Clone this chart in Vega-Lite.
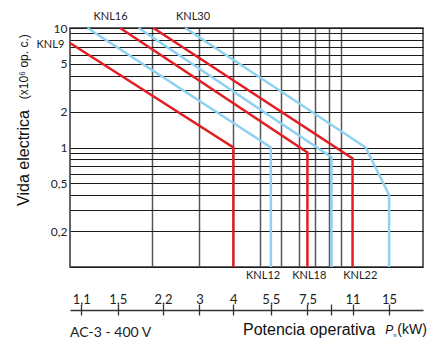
{
  "$schema": "https://vega.github.io/schema/vega-lite/v6.json",
  "width": 353,
  "height": 239,
  "autosize": {"type": "none"},
  "padding": {"left": 70, "top": 28, "right": 7, "bottom": 72},
  "background": "white",
  "config": {
    "view": {"stroke": "#333", "strokeWidth": 1.5},
    "font": "Liberation Sans"
  },
  "datasets": {
    "curves": [
      {"curve": "KNL9", "p": 1, "life": 7.5, "o": 1},
      {"curve": "KNL9", "p": 4, "life": 1.0, "o": 2},
      {"curve": "KNL9", "p": 4, "life": 0.1, "o": 3},
      {"curve": "KNL12", "p": 1.16, "life": 10, "o": 1},
      {"curve": "KNL12", "p": 5.5, "life": 1.0, "o": 2},
      {"curve": "KNL12", "p": 5.5, "life": 0.1, "o": 3},
      {"curve": "KNL16", "p": 1.53, "life": 10, "o": 1},
      {"curve": "KNL16", "p": 7.5, "life": 0.91, "o": 2},
      {"curve": "KNL16", "p": 7.5, "life": 0.1, "o": 3},
      {"curve": "KNL18", "p": 1.79, "life": 10, "o": 1},
      {"curve": "KNL18", "p": 9.2, "life": 0.83, "o": 2},
      {"curve": "KNL18", "p": 9.2, "life": 0.1, "o": 3},
      {"curve": "KNL22", "p": 2.03, "life": 10, "o": 1},
      {"curve": "KNL22", "p": 11, "life": 0.81, "o": 2},
      {"curve": "KNL22", "p": 11, "life": 0.1, "o": 3},
      {"curve": "KNL30", "p": 2.66, "life": 10, "o": 1},
      {"curve": "KNL30", "p": 12.3, "life": 1.0, "o": 2},
      {"curve": "KNL30", "p": 15, "life": 0.4, "o": 3},
      {"curve": "KNL30", "p": 15, "life": 0.1, "o": 4}
    ],
    "names": [
      {"label": "KNL9", "p": 0.847, "life": 7.18},
      {"label": "KNL16", "p": 1.41, "life": 12.4},
      {"label": "KNL30", "p": 2.84, "life": 12.4},
      {"label": "KNL12", "p": 5.15, "life": 0.0837},
      {"label": "KNL18", "p": 7.62, "life": 0.0837},
      {"label": "KNL22", "p": 11.75, "life": 0.0837}
    ]
  },
  "encoding": {
    "y": {
      "field": "life", "type": "quantitative",
      "scale": {"type": "log", "domain": [0.1, 10], "nice": false},
      "axis": {
        "values": [0.1, 0.2, 0.3, 0.4, 0.5, 0.6, 0.7, 0.8, 0.9, 1, 2, 3, 4, 5, 6, 7, 8, 9, 10],
        "grid": true, "gridColor": "#1a1a1a", "gridWidth": 1.2, "gridOpacity": 1,
        "ticks": false, "domain": false,
        "labelFont": "Lato", "labelFontSize": 12, "labelColor": "#222", "labelPadding": 3,
        "labelExpr": "indexof([10, 5, 2, 1, 0.5, 0.2], datum.value) >= 0 ? replace(format(datum.value, '~g'), '.', ',') : ''",
        "title": "Vida electrica",
        "titleFont": "Liberation Sans", "titleFontSize": 16, "titleFontWeight": "normal",
        "titleColor": "#111",
        "titleX": -41.5, "titleY": 129.5, "titleAngle": 270,
        "titleAlign": "center", "titleBaseline": "alphabetic"
      }
    }
  },
  "layer": [
    {
      "data": {"name": "curves"},
      "mark": {"type": "line", "strokeWidth": 2.5},
      "encoding": {
        "x": {
          "field": "p", "type": "quantitative",
          "scale": {"type": "log", "domain": [1, 20], "nice": false},
          "axis": {
            "orient": "bottom", "offset": 37,
            "values": [1.1, 1.5, 2.2, 3, 4, 5.5, 7.5, 9.2, 11, 15],
            "grid": false, "domain": false,
            "ticks": true, "tickSize": 6, "tickColor": "#333", "tickWidth": 1.3,
            "labelFont": "Lato", "labelFontSize": 13, "labelColor": "#222",
            "labelBaseline": "alphabetic", "labelPadding": -7,
            "labelExpr": "datum.value == 9.2 ? '' : replace(format(datum.value, '~g'), '.', ',')",
            "title": null
          }
        },
        "color": {
          "field": "curve", "type": "nominal",
          "scale": {
            "domain": ["KNL9", "KNL12", "KNL16", "KNL18", "KNL22", "KNL30"],
            "range": ["#e31e24", "#8ed1f0", "#e31e24", "#8ed1f0", "#e31e24", "#8ed1f0"]
          },
          "legend": null
        },
        "order": {"field": "o", "type": "quantitative"}
      }
    },
    {
      "data": {"name": "names"},
      "mark": {"type": "text", "font": "Lato", "fontSize": 11, "color": "#222", "align": "center", "baseline": "middle"},
      "encoding": {
        "x": {
          "field": "p", "type": "quantitative",
          "axis": {
            "orient": "bottom", "offset": 43,
            "values": [1.1, 1.5, 2.2, 3, 4, 5.5, 7.5, 9.2, 11, 15],
            "grid": false, "labels": false,
            "domain": true, "domainColor": "#333", "domainWidth": 1.3,
            "ticks": true, "tickSize": 5, "tickColor": "#333", "tickWidth": 1.3,
            "title": "Potencia operativa",
            "titleFont": "Liberation Sans", "titleFontSize": 16, "titleFontWeight": "normal",
            "titleColor": "#111",
            "titleX": 305, "titleY": 24, "titleAlign": "right", "titleBaseline": "alphabetic"
          }
        },
        "text": {"field": "label"}
      }
    },
    {
      "data": {"values": [{"t": "(x10⁶ op. c.)", "p": 0.703, "life": 4.74}]},
      "mark": {"type": "text", "font": "Liberation Sans", "fontSize": 12, "color": "#111", "angle": 270, "align": "center", "baseline": "alphabetic"},
      "encoding": {
        "x": {
          "field": "p", "type": "quantitative",
          "axis": {
            "orient": "bottom",
            "values": [2, 3, 4, 5, 6, 7, 8, 9, 10],
            "grid": true, "gridColor": "#555", "gridWidth": 1.5, "gridOpacity": 1,
            "labels": false, "ticks": false, "domain": false, "title": null
          }
        },
        "text": {"field": "t"}
      }
    },
    {
      "data": {"values": [{"t": "AC-3 - 400 V", "p": 1, "life": 0.02596}]},
      "mark": {"type": "text", "font": "Lato", "fontSize": 14, "color": "#222", "align": "left", "baseline": "alphabetic"},
      "encoding": {
        "x": {"field": "p", "type": "quantitative", "axis": null},
        "text": {"field": "t"}
      }
    },
    {
      "data": {"values": [{"t": "P", "p": 14.53, "life": 0.0275}]},
      "mark": {"type": "text", "font": "Liberation Sans", "fontSize": 12, "fontStyle": "italic", "color": "#111", "align": "left", "baseline": "alphabetic"},
      "encoding": {
        "x": {"field": "p", "type": "quantitative", "axis": null},
        "text": {"field": "t"}
      }
    },
    {
      "data": {"values": [{"t": "n", "p": 15.55, "life": 0.02596}]},
      "mark": {"type": "text", "font": "Liberation Sans", "fontSize": 6, "color": "#111", "align": "left", "baseline": "alphabetic"},
      "encoding": {
        "x": {"field": "p", "type": "quantitative", "axis": null},
        "text": {"field": "t"}
      }
    },
    {
      "data": {"values": [{"t": "(kW)", "p": 16.09, "life": 0.0275}]},
      "mark": {"type": "text", "font": "Liberation Sans", "fontSize": 14, "color": "#111", "align": "left", "baseline": "alphabetic"},
      "encoding": {
        "x": {"field": "p", "type": "quantitative", "axis": null},
        "text": {"field": "t"}
      }
    }
  ],
  "resolve": {"axis": {"x": "independent"}}
}
